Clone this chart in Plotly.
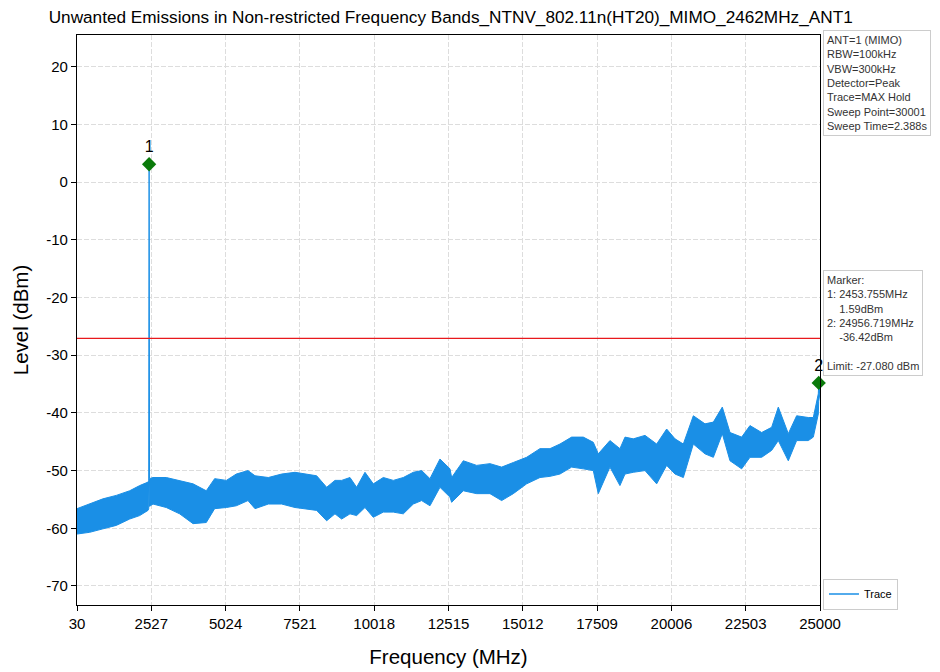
import plotly.graph_objects as go

# envelope of the max-hold trace, MHz / dBm
freq = [30, 456, 900, 1352, 1800, 2136, 2416, 2440, 2453.755, 2468, 2584, 3030, 3480, 3930,
        4375, 4656, 5050, 5384, 5776, 6012, 6460, 6908, 7356, 7692, 8084, 8420, 8700, 8924,
        9204, 9428, 9708, 9988, 10324, 10660, 10996, 11332, 11612, 11892, 12228, 12564,
        12621, 13013, 13461, 13909, 14301, 14693, 15141, 15589, 15925, 16261, 16653, 17045,
        17381, 17549, 17941, 18277, 18447, 18725, 19119, 19511, 19847, 20127, 20407, 20743,
        21135, 21415, 21717, 21975, 22367, 22647, 23039, 23375, 23599, 23935, 24215, 24607,
        24775, 24943, 24956.719, 25000]
upper = [-56.6, -55.8, -54.9, -54.3, -53.5, -52.6, -52.0, -51.8, 3.1, -51.4, -51.2, -51.2, -51.7, -52.3,
         -53.5, -51.4, -51.7, -50.6, -50.0, -50.9, -51.2, -50.6, -50.3, -50.6, -50.9, -52.9, -51.7, -51.7,
         -51.2, -52.9, -50.3, -52.3, -51.2, -51.7, -51.2, -50.3, -50.0, -51.4, -48.0, -49.7,
         -51.2, -48.3, -49.1, -48.8, -49.4, -48.6, -47.7, -46.2, -46.2, -45.4, -44.2, -44.2,
         -45.1, -47.1, -44.8, -46.2, -44.2, -44.5, -43.9, -45.4, -42.8, -44.5, -45.4, -40.5,
         -41.9, -41.6, -39.0, -43.4, -44.2, -42.2, -43.4, -42.5, -39.0, -43.6, -40.5, -40.8,
         -40.8, -36.7, -35.0, -34.6]
lower = [-61.0, -60.7, -60.1, -59.5, -58.4, -57.8, -56.9, -56.6, -52.0, -56.2, -55.8, -56.4, -57.5, -59.2,
         -59.0, -56.6, -56.4, -56.1, -55.2, -56.6, -55.8, -55.8, -56.4, -56.6, -56.9, -58.7, -57.5, -58.4,
         -57.5, -57.8, -56.4, -58.1, -57.2, -57.2, -57.5, -55.8, -55.2, -56.1, -52.9, -54.6,
         -55.5, -53.5, -54.0, -54.0, -55.2, -54.0, -52.3, -51.2, -51.0, -50.6, -49.4, -49.7,
         -50.0, -54.0, -49.4, -52.6, -50.6, -50.3, -50.0, -52.3, -49.1, -50.6, -51.2, -45.4,
         -47.1, -47.7, -43.6, -48.3, -49.7, -47.7, -47.7, -46.5, -44.8, -48.3, -44.8, -44.8,
         -44.2, -40.2, -38.0, -36.5]

limit = -27.080
marker_f = [2453.755, 24956.719]
marker_lvl = [3.1, -34.8]
marker_names = ["1", "2"]

xticks = [30, 2527, 5024, 7521, 10018, 12515, 15012, 17509, 20006, 22503, 25000]
yticks = [20, 10, 0, -10, -20, -30, -40, -50, -60, -70]

blue = "#1a8fe6"
font = "Liberation Sans, Arial, sans-serif"

fig = go.Figure()
fig.add_trace(go.Scatter(x=freq, y=lower, mode="lines", line=dict(color=blue, width=1),
                         showlegend=False, hoverinfo="skip"))
fig.add_trace(go.Scatter(x=freq, y=upper, mode="lines", line=dict(color=blue, width=1),
                         fill="tonexty", fillcolor=blue, showlegend=False))
# legend entry only
fig.add_trace(go.Scatter(x=[None], y=[None], mode="lines", line=dict(color=blue, width=1.5),
                         name="Trace"))
fig.add_trace(go.Scatter(x=[freq[0], freq[-1]], y=[limit, limit], mode="lines",
                         line=dict(color="#e8191c", width=1.3), showlegend=False))
fig.add_trace(go.Scatter(x=marker_f, y=marker_lvl, mode="markers+text", text=marker_names,
                         textposition="top center", textfont=dict(size=16, color="black"),
                         marker=dict(symbol="diamond", color="#0a7a0a", size=11),
                         showlegend=False, cliponaxis=False))

info = "<br>".join(["ANT=1 (MIMO)", "RBW=100kHz", "VBW=300kHz", "Detector=Peak",
                    "Trace=MAX Hold", "Sweep Point=30001", "Sweep Time=2.388s"])
mark = "<br>".join(["Marker:", "1: 2453.755MHz", "&nbsp;&nbsp;&nbsp;&nbsp;1.59dBm",
                    "2: 24956.719MHz", "&nbsp;&nbsp;&nbsp;&nbsp;-36.42dBm", "",
                    "Limit: -27.080 dBm"])

for txt, ytop in [(info, 1.009), (mark, 0.588)]:
    fig.add_annotation(text=txt, xref="paper", yref="paper", x=1.004, y=ytop,
                       xanchor="left", yanchor="top", align="left", showarrow=False,
                       font=dict(size=11, color="#333333", family=font),
                       bordercolor="#cccccc", borderwidth=1, borderpad=3, bgcolor="white")

grid = dict(showgrid=True, gridcolor="#dddddd", griddash="5px,2px", gridwidth=1,
            showline=True, linecolor="black", linewidth=1.2, mirror=True,
            ticks="outside", ticklen=5, tickcolor="black", zeroline=False, automargin=False,
            tickfont=dict(size=15, color="black", family=font))

# page body has an 8px margin, so the figure is sized to fit inside the window
fig.update_layout(
    width=932, height=664,
    margin=dict(l=69, r=120, t=27, b=67),
    paper_bgcolor="white", plot_bgcolor="white",
    font=dict(family=font),
    title=dict(text="Unwanted Emissions in Non-restricted Frequency Bands_NTNV_802.11n(HT20)_MIMO_2462MHz_ANT1",
               x=0.475, xanchor="center", y=0.986, yanchor="middle",
               font=dict(size=17.2, color="black", family=font)),
    xaxis=dict(range=[30, 25000], tickvals=xticks, ticktext=[str(t) for t in xticks],
               title=dict(text="Frequency (MHz)", font=dict(size=20.5, color="black"), standoff=18), **grid),
    yaxis=dict(range=[-73.3, 25.5], tickvals=yticks, ticktext=[str(t) for t in yticks],
               title=dict(text="Level (dBm)", font=dict(size=20.5, color="black"), standoff=12), **grid),
    legend=dict(x=1.004, y=-0.008, xanchor="left", yanchor="bottom", bordercolor="#cccccc",
                borderwidth=1, font=dict(size=11, color="black"), bgcolor="white",
                itemwidth=30),
    showlegend=True,
)

fig.write_html("out.html")
